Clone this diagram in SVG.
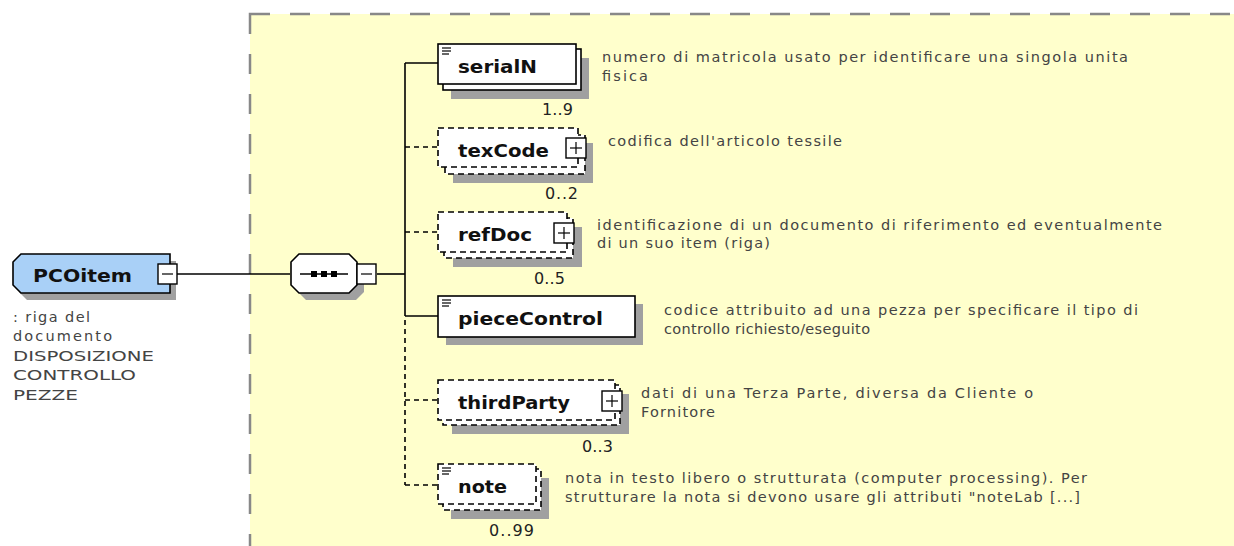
<svg xmlns="http://www.w3.org/2000/svg" width="1234" height="546" viewBox="0 0 1234 546">
<style>
.area{fill:#ffffcc;stroke:#888;stroke-width:2.5;stroke-dasharray:20 20}
.shadow{fill:#a0a0a0;stroke:none}
.box{fill:#fff;stroke:#000;stroke-width:1.6}
.dbox{fill:#fff;stroke:#000;stroke-width:1.6;stroke-dasharray:6 4}
.lbl{font-family:"DejaVu Sans","Liberation Sans",sans-serif;font-weight:bold;font-size:17px;fill:#111}
.desc{font-family:"DejaVu Sans","Liberation Sans",sans-serif;font-size:14.5px;fill:#444}
.mult{font-family:"DejaVu Sans","Liberation Sans",sans-serif;font-size:16px;fill:#222;text-anchor:end}
.ln{stroke:#000;stroke-width:1.6;fill:none}
.dln{stroke:#000;stroke-width:1.6;fill:none;stroke-dasharray:5 4}
.icon{stroke:#000;stroke-width:1.2}
</style>
<defs>
<g id="doc"><line class="icon" x1="0" y1="0" x2="9" y2="0"/><line class="icon" x1="0" y1="3" x2="9" y2="3"/><line class="icon" x1="0" y1="6" x2="7" y2="6"/></g>
<g id="plus"><rect x="0" y="0" width="20" height="20" fill="#fff" stroke="#000" stroke-width="1.4"/><line class="icon" x1="4" y1="10" x2="16" y2="10"/><line class="icon" x1="10" y1="4" x2="10" y2="16"/></g>
<g id="minus"><rect x="0" y="0" width="19" height="20" fill="#fff" stroke="#000" stroke-width="1.4"/><line class="icon" x1="4" y1="10" x2="15" y2="10"/></g>
</defs>
<rect width="1234" height="546" fill="#fff"/>
<rect class="area" x="250" y="14" width="1010" height="560"/>

<g id="connectors">
<line class="ln" x1="177" y1="274" x2="290" y2="274"/>
<line class="ln" x1="377" y1="274" x2="405" y2="274"/>
<line class="ln" x1="405" y1="63" x2="405" y2="316"/>
<line class="ln" x1="405" y1="63" x2="438" y2="63"/>
<line class="dln" x1="405" y1="147" x2="438" y2="147"/>
<line class="dln" x1="405" y1="232" x2="438" y2="232"/>
<line class="ln" x1="405" y1="316" x2="438" y2="316"/>
<line class="dln" x1="405" y1="320" x2="405" y2="485"/>
<line class="dln" x1="405" y1="400" x2="438" y2="400"/>
<line class="dln" x1="405" y1="485" x2="438" y2="485"/>
</g>

<g id="PCOitem">
<polygon class="shadow" points="27,261 176,261 176,300 27,300 19,292 19,269"/>
<polygon points="21,254 170,254 170,293 21,293 13,285 13,262" fill="#a9d0f7" stroke="#000" stroke-width="1.6"/>
<text class="lbl" x="33" y="282" textLength="99" lengthAdjust="spacingAndGlyphs">PCOitem</text>
<use href="#minus" x="158" y="264"/>
<text class="desc" x="13" y="322" textLength="77" lengthAdjust="spacing">: riga del</text>
<text class="desc" x="13" y="341" textLength="99" lengthAdjust="spacing">documento</text>
<text class="desc" x="13" y="361" textLength="141" lengthAdjust="spacingAndGlyphs">DISPOSIZIONE</text>
<text class="desc" x="13" y="380" textLength="123" lengthAdjust="spacingAndGlyphs">CONTROLLO</text>
<text class="desc" x="13" y="400" textLength="65" lengthAdjust="spacingAndGlyphs">PEZZE</text>
</g>

<g id="sequence">
<polygon class="shadow" points="306,261 356,261 364,269 364,292 356,300 306,300 298,292 298,269"/>
<polygon points="299,254 349,254 357,262 357,285 349,293 299,293 291,285 291,262" fill="#fff" stroke="#000" stroke-width="1.6"/>
<line class="ln" x1="300" y1="274" x2="348" y2="274"/>
<rect x="311" y="271" width="6" height="6" fill="#000"/>
<rect x="321" y="271" width="6" height="6" fill="#000"/>
<rect x="331" y="271" width="6" height="6" fill="#000"/>
<use href="#minus" x="357" y="264"/>
</g>

<g id="serialN">
<rect class="shadow" x="451" y="58" width="138" height="41"/>
<rect class="box" x="443" y="49" width="138" height="41"/>
<rect class="box" x="438" y="44" width="138" height="40"/>
<use href="#doc" x="442" y="48"/>
<text class="lbl" x="458" y="73" textLength="79" lengthAdjust="spacingAndGlyphs">serialN</text>
<text class="mult" x="573" y="115" textLength="31" lengthAdjust="spacing">1..9</text>
<text class="desc" x="602" y="62" textLength="526" lengthAdjust="spacing">numero di matricola usato per identificare una singola unita</text>
<text class="desc" x="602" y="81" textLength="46" lengthAdjust="spacing">fisica</text>
</g>

<g id="texCode">
<rect class="shadow" x="453" y="143" width="140" height="40"/>
<rect class="dbox" x="445" y="135" width="140" height="39"/>
<rect class="dbox" x="438" y="128" width="140" height="39"/>
<text class="lbl" x="458" y="157" textLength="91" lengthAdjust="spacingAndGlyphs">texCode</text>
<use href="#plus" x="566" y="138"/>
<text class="mult" x="578" y="199" textLength="33" lengthAdjust="spacing">0..2</text>
<text class="desc" x="608" y="146" textLength="234" lengthAdjust="spacing">codifica dell'articolo tessile</text>
</g>

<g id="refDoc">
<rect class="shadow" x="453" y="227" width="129" height="40"/>
<rect class="dbox" x="444" y="218" width="129" height="40"/>
<rect class="dbox" x="438" y="212" width="129" height="40"/>
<text class="lbl" x="458" y="241" textLength="74" lengthAdjust="spacingAndGlyphs">refDoc</text>
<use href="#plus" x="554" y="223"/>
<text class="mult" x="565" y="284" textLength="31" lengthAdjust="spacing">0..5</text>
<text class="desc" x="597" y="230" textLength="565" lengthAdjust="spacing">identificazione di un documento di riferimento ed eventualmente</text>
<text class="desc" x="597" y="248" textLength="173" lengthAdjust="spacing">di un suo item (riga)</text>
</g>

<g id="pieceControl">
<rect class="shadow" x="446" y="304" width="197" height="41"/>
<rect class="box" x="438" y="296" width="197" height="41"/>
<use href="#doc" x="442" y="300"/>
<text class="lbl" x="458" y="325" textLength="145" lengthAdjust="spacingAndGlyphs">pieceControl</text>
<text class="desc" x="664" y="315" textLength="474" lengthAdjust="spacing">codice attribuito ad una pezza per specificare il tipo di</text>
<text class="desc" x="664" y="334" textLength="206" lengthAdjust="spacing">controllo richiesto/eseguito</text>
</g>

<g id="thirdParty">
<rect class="shadow" x="452" y="394" width="177" height="40"/>
<rect class="dbox" x="443" y="385" width="177" height="40"/>
<rect class="dbox" x="438" y="380" width="177" height="40"/>
<text class="lbl" x="458" y="409" textLength="112" lengthAdjust="spacingAndGlyphs">thirdParty</text>
<use href="#plus" x="602" y="391"/>
<text class="mult" x="613" y="452" textLength="31" lengthAdjust="spacing">0..3</text>
<text class="desc" x="641" y="398" textLength="392" lengthAdjust="spacing">dati di una Terza Parte, diversa da Cliente o</text>
<text class="desc" x="641" y="417" textLength="74" lengthAdjust="spacing">Fornitore</text>
</g>

<g id="note">
<rect class="shadow" x="451" y="478" width="98" height="41"/>
<rect class="dbox" x="443" y="469" width="98" height="41"/>
<rect class="dbox" x="438" y="464" width="98" height="40"/>
<use href="#doc" x="442" y="468"/>
<text class="lbl" x="458" y="493" textLength="49" lengthAdjust="spacingAndGlyphs">note</text>
<text class="mult" x="534" y="536" textLength="45" lengthAdjust="spacing">0..99</text>
<text class="desc" x="565" y="483" textLength="522" lengthAdjust="spacing">nota in testo libero o strutturata (computer processing). Per</text>
<text class="desc" x="565" y="502" textLength="515" lengthAdjust="spacing">strutturare la nota si devono usare gli attributi "noteLab [...]</text>
</g>
</svg>
